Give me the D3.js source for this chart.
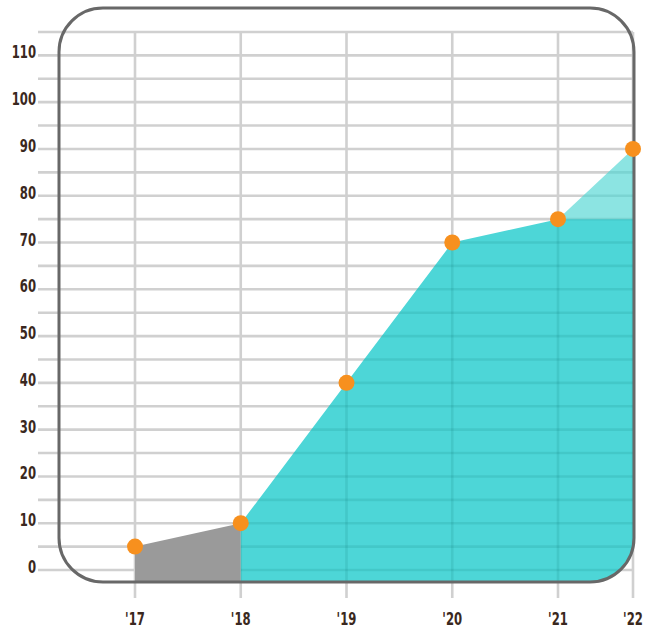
<!DOCTYPE html>
<html>
<head>
<meta charset="utf-8">
<script src="https://cdn.jsdelivr.net/npm/d3@7"></script>
<style>
  html, body { margin: 0; padding: 0; background: #fff; }
  svg { display: block; }
  .lbl { font-family: "Liberation Sans Narrow", "DejaVu Sans Condensed", sans-serif; font-weight: bold; fill: #3a2820; }
</style>
</head>
<body>
<svg id="chart" width="648" height="629"></svg>
<script>
// Yearly values
const years = [2017, 2018, 2019, 2020, 2021, 2022];
const yearLabels = ["'17", "'18", "'19", "'20", "'21", "'22"];
const values = [5, 10, 40, 70, 75, 90];
const yTicks = [0, 10, 20, 30, 40, 50, 60, 70, 80, 90, 100, 110];
const gridStep = 5;
const yMax = 115;

const svg = d3.select("#chart");

// Frame box
const frame = { x: 59, y: 8, w: 575, h: 574, r: 44 };

const x = d3.scaleLinear().domain([2017, 2021, 2022]).range([135, 558, 633]);
const y = d3.scaleLinear().domain([0, yMax]).range([570, 32]);

const defs = svg.append("defs");
defs.append("clipPath").attr("id", "frameClip")
  .append("rect")
  .attr("x", frame.x).attr("y", frame.y)
  .attr("width", frame.w).attr("height", frame.h)
  .attr("rx", frame.r).attr("ry", frame.r);

const pts = years.map((yr, i) => ({ yr, v: values[i] }));
const cap = values[4];
const bottom = frame.y + frame.h;

// Grid (underneath)
const gridVals = d3.range(0, yMax + 0.001, gridStep);
function drawGrid(g, color, opacity) {
  g.selectAll(".h").data(gridVals).join("line")
    .attr("x1", 38).attr("x2", 633)
    .attr("y1", d => y(d)).attr("y2", d => y(d))
    .attr("stroke", color).attr("stroke-opacity", opacity).attr("stroke-width", 2.6);
  g.selectAll(".v").data(years).join("line")
    .attr("x1", d => x(d)).attr("x2", d => x(d))
    .attr("y1", y(yMax)).attr("y2", 598)
    .attr("stroke", color).attr("stroke-opacity", opacity).attr("stroke-width", 2.6);
}
drawGrid(svg.append("g"), "#d0d0d0", 1);

// Areas
const areaFull = d3.area().x(d => x(d.yr)).y0(bottom).y1(d => y(d.v));
const areaCapped = d3.area().x(d => x(d.yr)).y0(bottom).y1(d => y(Math.min(d.v, cap)));

const areas = svg.append("g").attr("clip-path", "url(#frameClip)");
const greyPts = pts.slice(0, 2);
const tealPts = pts.slice(1);
const lightPts = pts.slice(4);

areas.append("path").attr("d", areaFull(greyPts)).attr("fill", "#9a9a9a");
areas.append("path").attr("d", areaFull(lightPts)).attr("fill", "#8ce4e2");
areas.append("path").attr("d", areaCapped(tealPts)).attr("fill", "#4dd6d7");

// Grid tint over the teal areas
defs.append("clipPath").attr("id", "areaClip")
  .append("path").attr("d", areaFull(tealPts));
const overlay = svg.append("g").attr("clip-path", "url(#frameClip)")
  .append("g").attr("clip-path", "url(#areaClip)");
drawGrid(overlay, "#006060", 0.12);

// Frame border
svg.append("rect")
  .attr("x", frame.x).attr("y", frame.y)
  .attr("width", frame.w).attr("height", frame.h)
  .attr("rx", frame.r).attr("ry", frame.r)
  .attr("fill", "none").attr("stroke", "#686868").attr("stroke-width", 3);

// Y labels
svg.append("g").selectAll("text").data(yTicks).join("text")
  .attr("class", "lbl")
  .attr("font-size", 18)
  .attr("text-anchor", "end")
  .attr("transform", d => `translate(36,${y(d) + 3}) scale(0.72,1)`)
  .text(d => d);

// X labels
svg.append("g").selectAll("text").data(years).join("text")
  .attr("class", "lbl")
  .attr("font-size", 18)
  .attr("text-anchor", "middle")
  .attr("transform", d => `translate(${x(d)},625) scale(0.72,1)`)
  .text((d, i) => yearLabels[i]);

// Points
svg.append("g").selectAll("circle").data(pts).join("circle")
  .attr("cx", d => x(d.yr)).attr("cy", d => y(d.v))
  .attr("r", 8).attr("fill", "#f7901e");
</script>
</body>
</html>
